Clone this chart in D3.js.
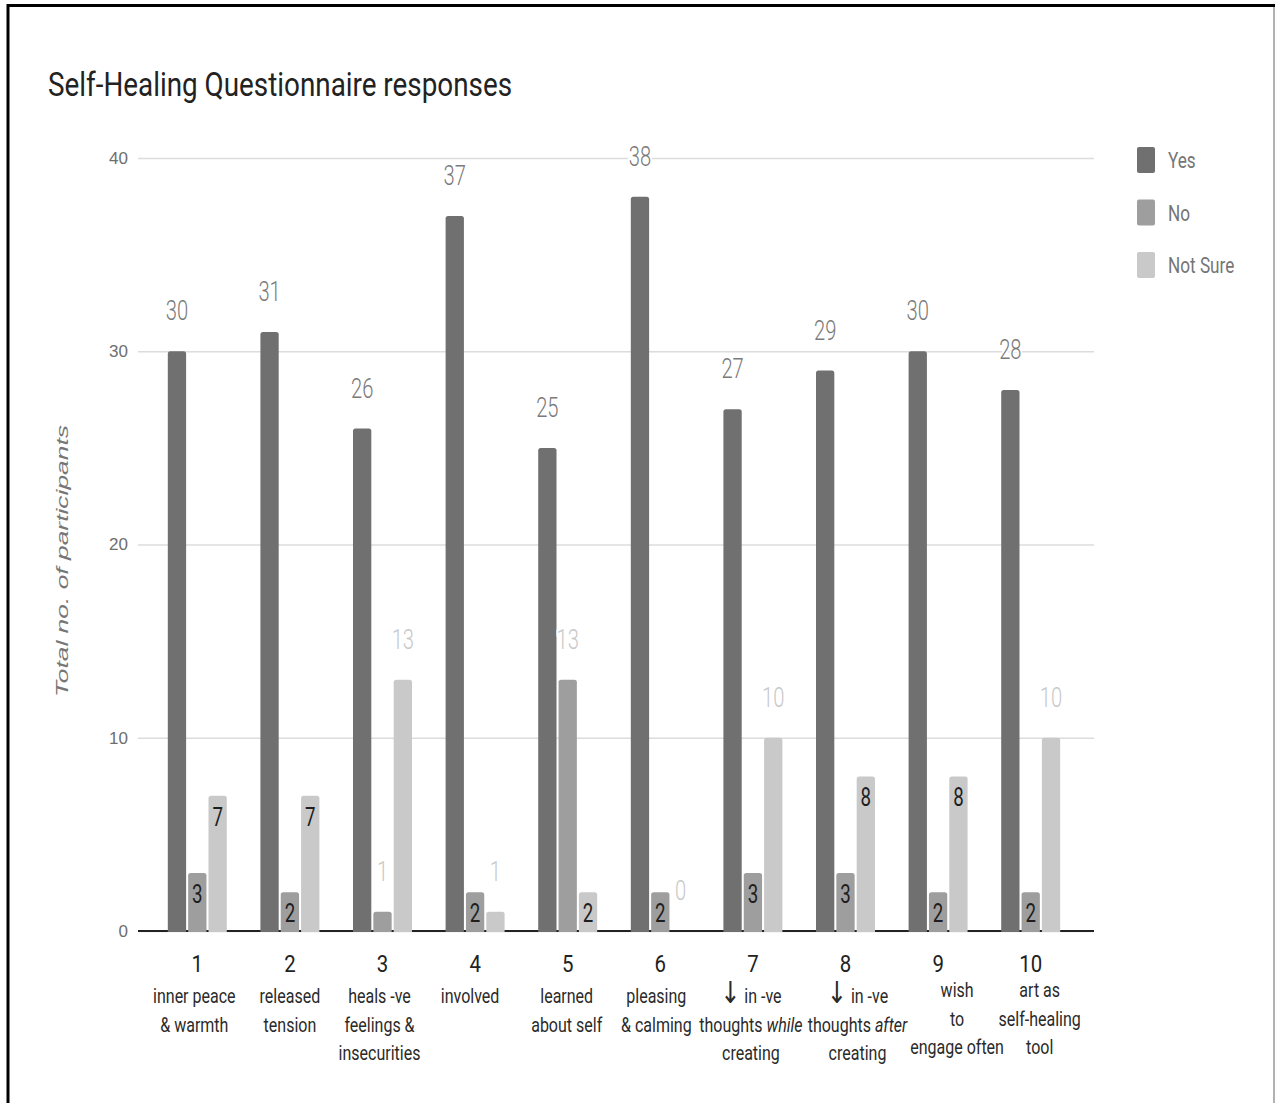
<!DOCTYPE html>
<html>
<head>
<meta charset="utf-8">
<script src="https://cdn.jsdelivr.net/npm/d3@7"></script>
<style>
  body { margin: 0; background: #fff; }
  svg { display: block; }
</style>
</head>
<body>
<div class="container"></div>
<script>
var categories = ["1", "2", "3", "4", "5", "6", "7", "8", "9", "10"];
var subLabels = [
    ["inner peace", "& warmth"],
    ["released", "tension"],
    ["heals -ve", "feelings &", "insecurities"],
    ["involved"],
    ["learned", "about self"],
    ["pleasing", "& calming"],
    ["↓ in -ve", "thoughts *while*", "creating"],
    ["↓ in -ve", "thoughts *after*", "creating"],
    ["wish", "to", "engage often"],
    ["art as", "self-healing", "tool"]
];
var series = ["Yes", "No", "Not Sure"];
var yesValues = [30, 31, 26, 37, 25, 38, 27, 29, 30, 28];
var noValues = [3, 2, 1, 2, 13, 2, 3, 3, 2, 2];
var notSureValues = [7, 7, 13, 1, 2, 0, 10, 8, 8, 10];
var yTicks = [0, 10, 20, 30, 40];

var width = 1275;
var height = 1103;
var colors = ["#707070", "#9e9e9e", "#c9c9c9"];
// hand nudges of the wrapped category captions
var labelShift = [[-3, 0], [0, 0], [-3, 0], [-5, 0], [-1, 0], [-4, 0], [-2, 0], [12, 0], [19, -6], [9, -6]];

var values = [yesValues, noValues, notSureValues];
var rows = [];
categories.forEach(function(c, i) {
    series.forEach(function(s, j) {
        rows.push({cat: c, series: s, si: j, value: values[j][i]});
    });
});

var svg = d3.select(".container").append("svg")
            .attr("width", width)
            .attr("height", height)
            .style("font-family", "Roboto, 'Open Sans', sans-serif");

svg.append("rect").attr("width", width).attr("height", height).attr("fill", "#fff");

var y = d3.scaleLinear().domain([0, 40]).range([931, 158]);

var x0 = d3.scaleBand()
           .domain(categories)
           .range([151, 1077])
           .paddingInner(0.363)
           .paddingOuter(0.1815);

var x1 = d3.scaleBand()
           .domain(series)
           .range([0, x0.bandwidth()])
           .paddingInner(0.1);

// text that is drawn narrow, like the original
function place(sel, fx, fy, k) {
    sel.attr("transform", (d, i) => `translate(${fx(d, i)},${fy(d, i)}) scale(${k},1)`);
}

// frame
svg.append("path")
   .attr("d", `M8,${height} V5.5 H${width}`)
   .attr("fill", "none")
   .attr("stroke", "#000")
   .attr("stroke-width", 3);

svg.append("line")
   .attr("x1", 1274).attr("x2", 1274)
   .attr("y1", 7).attr("y2", height)
   .attr("stroke", "#999")
   .attr("stroke-width", 1.5);

svg.append("text")
   .attr("x", 48)
   .attr("y", 96)
   .attr("font-size", 34)
   .attr("fill", "#222")
   .attr("textLength", 464)
   .attr("lengthAdjust", "spacingAndGlyphs")
   .text("Self-Healing Questionnaire responses");

// grid
var yAxis = d3.axisLeft(y).tickValues(yTicks).tickSize(-(1094 - 138)).tickPadding(10);

var gy = svg.append("g")
            .attr("transform", "translate(138,0)")
            .call(yAxis);

gy.select(".domain").remove();
gy.selectAll(".tick line")
  .attr("stroke", "#dcdcdc")
  .attr("stroke-width", 1.5);
gy.selectAll(".tick text")
  .attr("fill", "#6e6e6e")
  .attr("font-size", 17)
  .attr("font-family", "'Liberation Sans', Arial, sans-serif");

svg.append("text")
   .attr("transform", "translate(68,561) rotate(-90) scale(1,0.82)")
   .attr("text-anchor", "middle")
   .attr("font-family", "'Liberation Sans', Arial, sans-serif")
   .attr("font-style", "italic")
   .attr("font-size", 20)
   .attr("fill", "#767676")
   .attr("textLength", 272)
   .attr("lengthAdjust", "spacingAndGlyphs")
   .text("Total no. of participants");

svg.append("line")
   .attr("x1", 138).attr("x2", 1094)
   .attr("y1", y(0)).attr("y2", y(0))
   .attr("stroke", "#222")
   .attr("stroke-width", 2);

// bars
function barPath(bx, by, w, h, r) {
    return `M${bx},${by + h} V${by + r} Q${bx},${by} ${bx + r},${by}
            H${bx + w - r} Q${bx + w},${by} ${bx + w},${by + r} V${by + h} Z`;
}

svg.append("g").selectAll("path.bar")
   .data(rows.filter(d => d.value > 0))
   .join("path")
   .attr("class", "bar")
   .attr("fill", d => colors[d.si])
   .attr("d", d => barPath(x0(d.cat) + x1(d.series), y(d.value), x1.bandwidth(), y(0) - y(d.value) + 1, 2.5));

// value labels
function inside(d) { return d.si > 0 && d.value >= 2 && d.value <= 9; }

var labels = svg.append("g").selectAll("text.value")
                .data(rows)
                .join("text")
                .attr("class", "value")
                .attr("text-anchor", "middle")
                .attr("font-size", d => inside(d) ? 26 : 28)
                .attr("font-weight", d => inside(d) ? 400 : 300)
                .attr("fill", d => inside(d) ? "#1e1e1e" : (d.si == 0 ? "#7a7a7a" : "#c8c8c8"))
                .attr("stroke", d => inside(d) ? "none" : "#fff")
                .attr("stroke-width", 5)
                .attr("paint-order", "stroke")
                .text(d => d.value);

place(labels,
      d => x0(d.cat) + x1(d.series) + x1.bandwidth() / 2,
      d => inside(d) ? y(d.value) + 30 : y(d.value) - 31,
      0.72);

// category axis
var cats = svg.append("g").selectAll("g.cat")
              .data(categories)
              .join("g")
              .attr("class", "cat");

var nums = cats.append("text")
               .attr("text-anchor", "middle")
               .attr("font-size", 24)
               .attr("fill", "#222")
               .text(d => d);

place(nums, d => x0(d) + x0.bandwidth() / 2, d => 972, 0.85);

cats.each(function(c, i) {
    var g = d3.select(this);
    var lines = g.selectAll("text.sub")
                 .data(subLabels[i])
                 .join("text")
                 .attr("class", "sub")
                 .attr("text-anchor", "middle")
                 .attr("font-size", 20)
                 .attr("fill", "#2a2a2a");

    lines.each(function(t) {
        var el = d3.select(this);
        t.split(/(\*[^*]+\*|↓)/).filter(p => p.length).forEach(function(p) {
            var ts = el.append("tspan");
            if (p[0] == "*") {
                ts.attr("font-style", "italic").text(p.slice(1, -1));
            } else if (p == "↓") {
                ts.attr("font-size", 30).attr("font-family", "'DejaVu Sans', sans-serif").text(p);
            } else {
                ts.text(p);
            }
        });
    });

    place(lines,
          () => x0(c) + x0.bandwidth() / 2 + labelShift[i][0],
          (d, j) => 1003 + labelShift[i][1] + j * 28.5,
          0.8);
});

// legend
var legend = svg.append("g").selectAll("g.legend")
                .data(series)
                .join("g")
                .attr("class", "legend")
                .attr("transform", (d, i) => `translate(1137,${147 + i * 52.5})`);

legend.append("rect")
      .attr("width", 18)
      .attr("height", 26)
      .attr("rx", 2)
      .attr("fill", (d, i) => colors[i]);

var legendText = legend.append("text")
                       .attr("font-size", 22)
                       .attr("fill", "#757575")
                       .text(d => d);

place(legendText, () => 31, () => 21, 0.78);
</script>
</body>
</html>
